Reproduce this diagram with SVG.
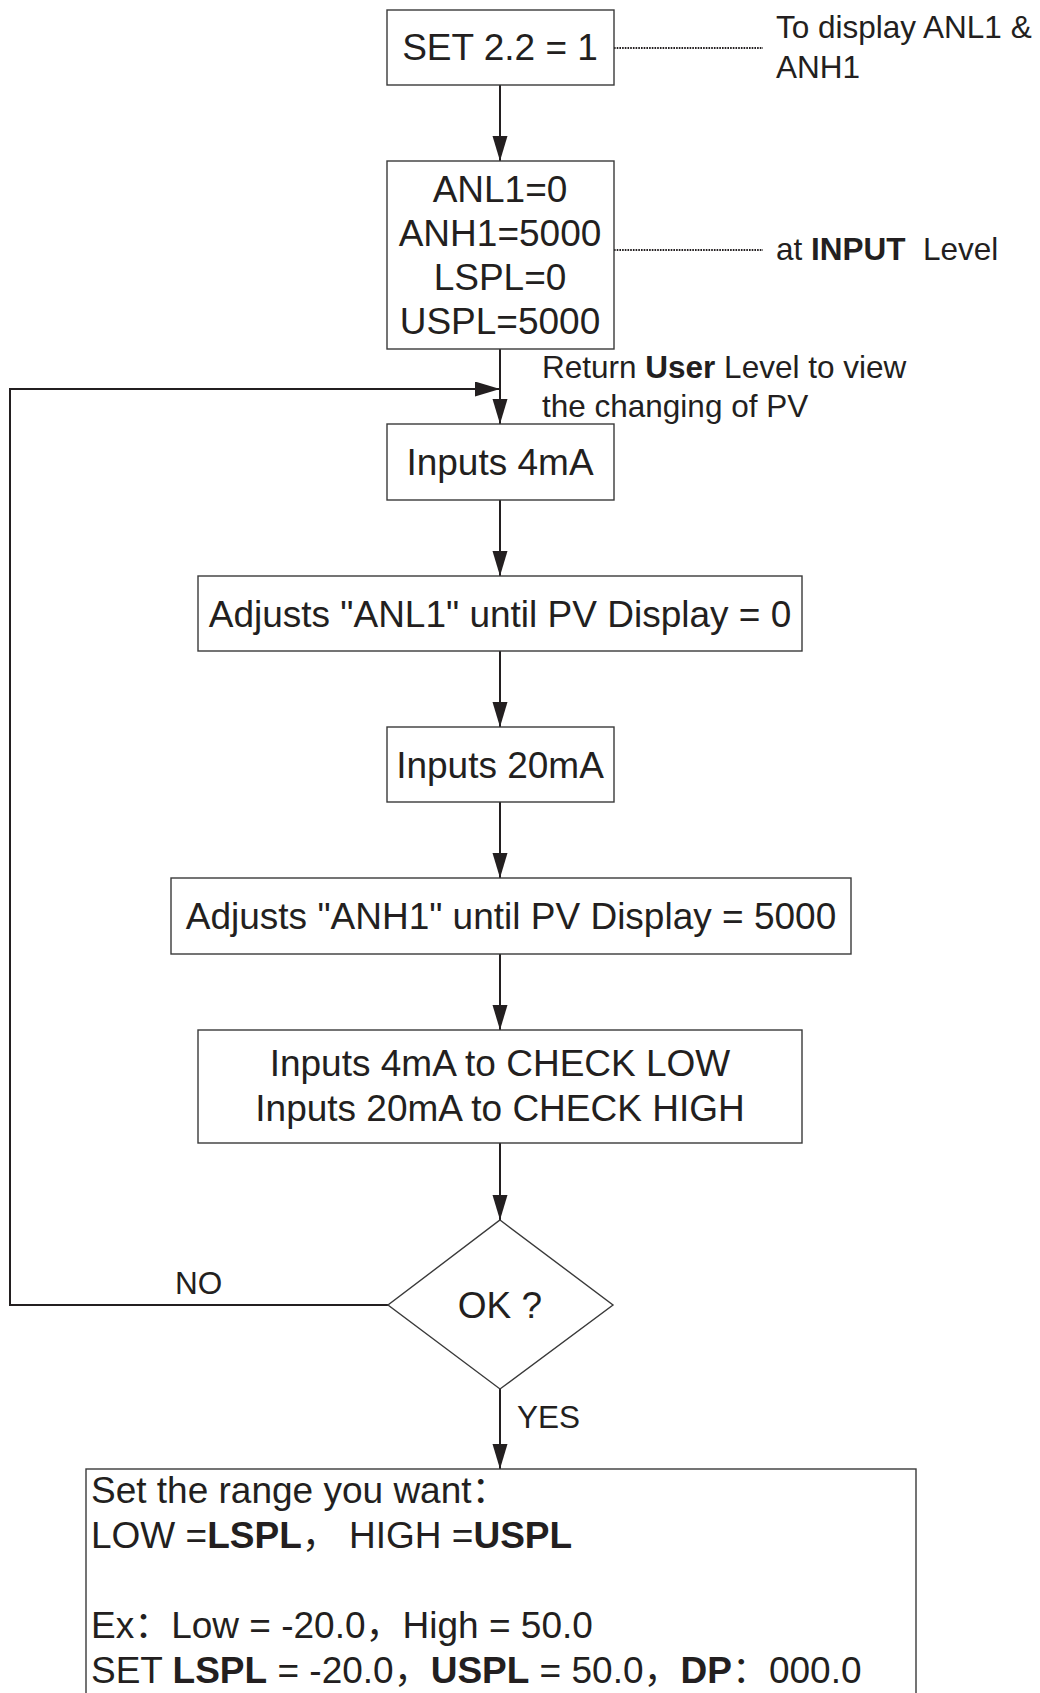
<svg xmlns="http://www.w3.org/2000/svg" width="1040" height="1693" viewBox="0 0 1040 1693">
<style>
.box{fill:#fff;stroke:#3a3a3a;stroke-width:1.4}
.t{font-family:"Liberation Sans",Arial,"Noto Sans CJK SC",sans-serif;font-size:37px;fill:#231f20}
.s{font-family:"Liberation Sans",Arial,"Noto Sans CJK SC",sans-serif;font-size:31.5px;fill:#231f20}
.c{text-anchor:middle}
.b{font-weight:bold}
.conn{fill:none;stroke:#231f20;stroke-width:2}
.dot{fill:none;stroke:#231f20;stroke-width:1.8;stroke-dasharray:1.6 1.1}
</style>
<defs>
<marker id="ah" markerUnits="userSpaceOnUse" markerWidth="26" markerHeight="16" refX="25" refY="7.5" orient="auto">
<path d="M0,0 L25,7.5 L0,15 z" fill="#231f20"/>
</marker>
</defs>
<rect width="1040" height="1693" fill="#fff"/>
<g id="connectors">
<path class="conn" d="M500,85 V161" marker-end="url(#ah)"/>
<path class="conn" d="M500,349 V424" marker-end="url(#ah)"/>
<path class="conn" d="M388,1305 H10 V389 H500" marker-end="url(#ah)"/>
<path class="conn" d="M500,500 V576" marker-end="url(#ah)"/>
<path class="conn" d="M500,651 V727" marker-end="url(#ah)"/>
<path class="conn" d="M500,802 V878" marker-end="url(#ah)"/>
<path class="conn" d="M500,954 V1030" marker-end="url(#ah)"/>
<path class="conn" d="M500,1143 V1220" marker-end="url(#ah)"/>
<path class="conn" d="M500,1389 V1469" marker-end="url(#ah)"/>
<path class="dot" d="M614,48 H763"/>
<path class="dot" d="M614,250 H763"/>
<text class="s" x="175" y="1294">NO</text>
<text class="s" x="517" y="1428">YES</text>
</g>
<g id="note1">
<text class="s" x="776" y="38">To display ANL1 &amp;</text>
<text class="s" x="776" y="78">ANH1</text>
</g>
<g id="note2">
<text class="s" x="776" y="260">at <tspan class="b">INPUT</tspan>&#160; Level</text>
</g>
<g id="note3">
<text class="s" x="542" y="378">Return <tspan class="b">User</tspan> Level to view</text>
<text class="s" x="542" y="417">the changing of PV</text>
</g>
<g id="n1">
<rect class="box" x="387" y="10" width="227" height="75"/>
<text class="t c" x="500" y="60">SET 2.2 = 1</text>
</g>
<g id="n2">
<rect class="box" x="387" y="161" width="227" height="188"/>
<text class="t c" x="500" y="202">ANL1=0</text>
<text class="t c" x="500" y="246">ANH1=5000</text>
<text class="t c" x="500" y="290">LSPL=0</text>
<text class="t c" x="500" y="334">USPL=5000</text>
</g>
<g id="n3">
<rect class="box" x="387" y="424" width="227" height="76"/>
<text class="t c" x="500" y="475">Inputs 4mA</text>
</g>
<g id="n4">
<rect class="box" x="198" y="576" width="604" height="75"/>
<text class="t c" x="500" y="627">Adjusts "ANL1" until PV Display = 0</text>
</g>
<g id="n5">
<rect class="box" x="387" y="727" width="227" height="75"/>
<text class="t c" x="500" y="778">Inputs 20mA</text>
</g>
<g id="n6">
<rect class="box" x="171" y="878" width="680" height="76"/>
<text class="t c" x="511" y="929">Adjusts "ANH1" until PV Display = 5000</text>
</g>
<g id="n7">
<rect class="box" x="198" y="1030" width="604" height="113"/>
<text class="t c" x="500" y="1076">Inputs 4mA to CHECK LOW</text>
<text class="t c" x="500" y="1121">Inputs 20mA to CHECK HIGH</text>
</g>
<g id="n8">
<path class="box" d="M500,1220 L613,1305 L500,1389 L388,1305 Z"/>
<text class="t c" x="500" y="1318">OK ?</text>
</g>
<g id="n9">
<rect class="box" x="86" y="1469" width="830" height="240"/>
<text class="t" x="91" y="1503">Set the range you want：</text>
<text class="t" x="91" y="1548">LOW =<tspan class="b">LSPL</tspan>， HIGH =<tspan class="b">USPL</tspan></text>
<text class="t" x="91" y="1638">Ex：Low = -20.0，High = 50.0</text>
<text class="t" x="91" y="1683">SET <tspan class="b">LSPL</tspan> = -20.0，<tspan class="b">USPL</tspan> = 50.0，<tspan class="b">DP</tspan>：000.0</text>
</g>
</svg>
